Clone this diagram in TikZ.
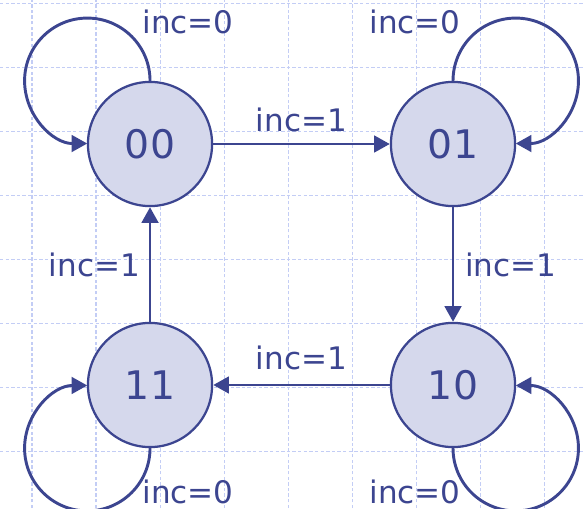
\documentclass[tikz,border=0pt]{standalone}
\usepackage{fontspec}
\setmainfont{DejaVu Sans}
\definecolor{FSMnavy}{HTML}{3C4590}
\definecolor{FSMfill}{HTML}{D5D8EC}
\definecolor{FSMgrid}{HTML}{C3CDF5}
\usetikzlibrary{arrows.meta}

\begin{document}
\begin{tikzpicture}[
    state/.style={circle, draw=FSMnavy, fill=FSMfill, line width=1pt,
        minimum size=1.94cm, inner sep=0pt, text=FSMnavy,
        font=\fontsize{17.5}{20}\selectfont},
    lbl/.style={text=FSMnavy, font=\fontsize{13.8}{16}\selectfont},
    trans/.style={-{Triangle[length=7pt, width=7.4pt]}, FSMnavy, line width=1.3pt}
]
    \useasboundingbox (0,0) rectangle (9.109,7.9375);
    % Background grid
    \foreach \x in {0.5,1.5,...,8.5}
        \draw[FSMgrid, dash pattern=on 1.5pt off 1pt, line width=0.45pt] (\x,0) -- (\x,7.9375);
    \foreach \y in {0.89,1.89,...,7.89}
        \draw[FSMgrid, dash pattern=on 1.5pt off 1pt, line width=0.45pt] (0,\y) -- (9.109,\y);
    % States
    \node[state] (s00) at (2.344,5.6875) {00};
    \node[state] (s01) at (7.078,5.6875) {01};
    \node[state] (s11) at (2.344,1.922) {11};
    \node[state] (s10) at (7.078,1.922) {10};
    % Transitions with inc=1
    \draw[trans] (s00) -- node[lbl, above=1.5pt] (t01) {inc=1} (s01);
    \draw[trans] (s01) -- node[lbl, right=1.5pt] (t10) {inc=1} (s10);
    \draw[trans] (s10) -- node[lbl, above=2.5pt] (t11) {inc=1} (s11);
    \draw[trans] (s11) -- node[lbl, left=0.5pt] (t00) {inc=1} (s00);
    % Self loops with inc=0
    \draw[trans] (s00.north) arc[start angle=0, end angle=270, radius=0.98];
    \draw[trans] (s01.north) arc[start angle=180, end angle=-90, radius=0.98];
    \draw[trans] (s11.south) arc[start angle=0, end angle=-270, radius=0.98];
    \draw[trans] (s10.south) arc[start angle=180, end angle=450, radius=0.98];
    \node[lbl] (l00) at (2.9375,7.594) {inc=0};
    \node[lbl] (l01) at (6.484,7.594) {inc=0};
    \node[lbl] (l11) at (2.9375,0.25) {inc=0};
    \node[lbl] (l10) at (6.484,0.25) {inc=0};
\end{tikzpicture}
\end{document}
